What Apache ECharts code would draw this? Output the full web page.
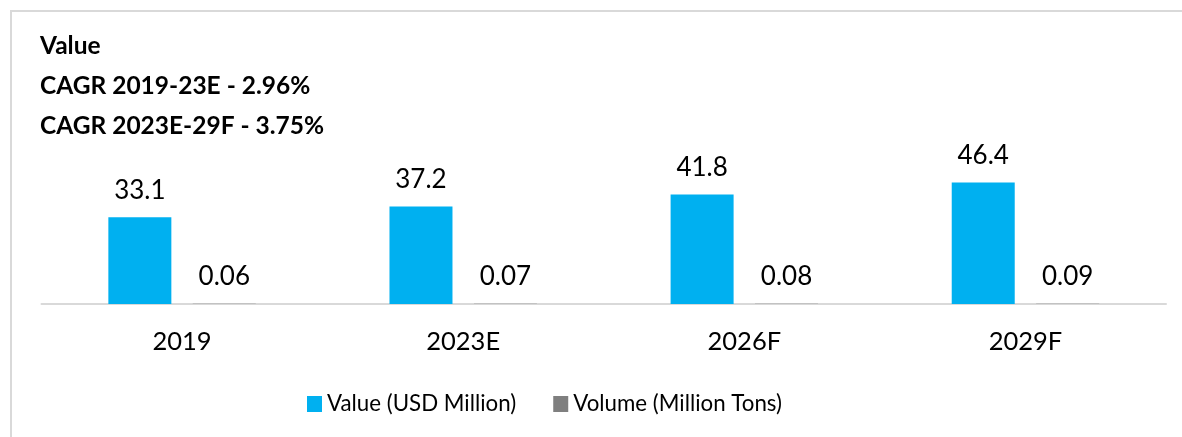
<!DOCTYPE html>
<html>
<head>
<meta charset="utf-8">
<script src="https://cdn.jsdelivr.net/npm/echarts@6/dist/echarts.min.js"></script>
<style>
  html, body { margin: 0; padding: 0; background: #ffffff; }
  #frame {
    position: absolute; left: 10px; top: 10px; right: 0; bottom: 0;
    border-left: 2px solid #d9d9d9; border-top: 2px solid #d9d9d9;
  }
  #chart { position: absolute; left: 0; top: 0; width: 1182px; height: 437px; }
</style>
</head>
<body>
<div id="frame"></div>
<div id="chart"></div>
<script>
// Market size by year
const categories = ['2019', '2023E', '2026F', '2029F'];
const valueUsdMillion = [33.1, 37.2, 41.8, 46.4];
const volumeMillionTons = [0.06, 0.07, 0.08, 0.09];
const headingLines = ['Value', 'CAGR 2019-23E - 2.96%', 'CAGR 2023E-29F - 3.75%'];
const seriesNames = ['Value (USD Million)', 'Volume (Million Tons)'];

const FONT = 'Lato, "Open Sans", sans-serif';

const chart = echarts.init(document.getElementById('chart'), null, { renderer: 'canvas' });

const labelStyle = {
  show: true,
  position: 'top',
  distance: 14,
  color: '#000',
  fontFamily: FONT,
  fontSize: 26
};

chart.setOption({
  backgroundColor: 'transparent',
  animation: false,
  title: {
    text: headingLines.join('\n'),
    left: 40,
    top: 26,
    padding: 0,
    textStyle: {
      fontFamily: FONT,
      fontWeight: 'bold',
      fontSize: 24.5,
      lineHeight: 40,
      color: '#000'
    }
  },
  legend: {
    bottom: 22,
    left: 307,
    padding: 0,
    itemWidth: 15,
    itemHeight: 16,
    itemGap: 37,
    itemStyle: { borderWidth: 0 },
    icon: 'rect',
    textStyle: { fontFamily: FONT, fontSize: 22.3, color: '#000' },
    data: seriesNames
  },
  grid: { left: 41.5, right: 16, top: 173, bottom: 133, containLabel: false },
  xAxis: {
    type: 'category',
    data: categories,
    axisLine: { lineStyle: { color: '#d9d9d9', width: 2 } },
    axisTick: { show: false },
    axisLabel: { color: '#000', fontFamily: FONT, fontSize: 25.5, margin: 25 }
  },
  yAxis: {
    type: 'value',
    min: 0,
    max: 50,
    show: false,
    splitLine: { show: false }
  },
  series: [
    {
      name: seriesNames[0],
      type: 'bar',
      data: valueUsdMillion,
      barWidth: 63,
      barGap: '34%',
      itemStyle: { color: '#00b0f0' },
      label: labelStyle
    },
    {
      name: seriesNames[1],
      type: 'bar',
      data: volumeMillionTons,
      barWidth: 63,
      itemStyle: { color: '#7f7f7f' },
      label: labelStyle
    }
  ]
});
</script>
</body>
</html>
